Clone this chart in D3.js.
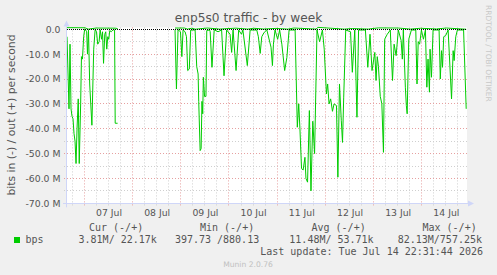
<!DOCTYPE html>
<html lang="en">
<head>
<meta charset="UTF-8">
<title>enp5s0 traffic - by week</title>
<script src="https://cdn.jsdelivr.net/npm/d3@7"></script>
<style>
  body { margin:0; background:#f0f0f0; }
  svg { display:block; }
  .sans { font-family:"DejaVu Sans", sans-serif; fill:#555; }
  .mono { font-family:"DejaVu Sans Mono", monospace; font-size:10px; fill:#555; }
</style>
</head>
<body>
<svg id="chart" width="497" height="275"></svg>
<script>
// graph window, read as UTC
var endTime = Date.UTC(2026, 6, 14, 22, 31, 44);
var spanHours = 199.2;

// in (-) series: hours after window start, Mbit/s (null = no data)
var inHours = [0, 1, 1.5, 2, 2.5, 3, 3.5, 4, 4.5, 5, 5.6, 6.1, 6.8, 7.2, 7.7, 8.3, 8.8, 9.3, 9.8, 10.2,
  10.7, 11.3, 12.4, 13.3, 14, 14.7, 15.3, 16, 16.5, 17.2, 17.7, 18.2, 18.8, 19.3, 19.8, 20.3, 20.8, 21.3, 22, 23,
  23.7, 24, 25.2, 26,
  53.8, 54.5, 55.3, 56.5, 57.2, 57.8, 58.8, 59.5, 60.1, 60.9, 61.6, 63.8, 64.6, 65.3, 65.6, 66.3, 66.8, 67.2, 67.6, 67.9,
  68.5, 69.2, 69.6, 71, 71.3, 72.2, 73.3, 75.2, 77, 78.2, 79.5, 81.2, 82, 82.7, 84.2, 85.5, 86.9, 87.6, 89.8, 91.2,
  94.5, 95.3, 96.2, 97, 98, 99.5, 101.6, 102.3, 102.8, 103.6, 104.9, 105.9, 107, 108.4, 109.5, 110.6, 113.6, 114.7, 115.4, 116,
  116.8, 117.6, 118.5, 119, 119.8, 120.7, 121.5, 122.4, 123.3, 124.5, 125.8, 127.2, 128.1, 129.2, 129.8, 130.5, 131.3, 132.2, 133, 134.2,
  134.9, 135.7, 136.6, 137.2, 137.8, 138.8, 141.2, 142.1, 143.3, 144.4, 145.2, 148.6, 149.8, 150.9, 151.9, 153.3, 153.9, 154.5, 155.1, 156,
  156.8, 157.6, 158.2, 159.5, 161, 162.1, 162.9, 163.9, 165, 166.4, 167, 167.5, 168.5, 169, 169.4, 170.2, 171.5, 173.7, 174.3, 174.9,
  175.6, 176.5, 177.5, 178.5, 179.2, 179.8, 180.5, 180.8, 181.5, 182.3, 185.3, 185.9, 186.5, 187, 187.6, 188.6, 189.8, 191.5, 192.3, 192.8,
  193.6, 194.4, 197.5, 198.8];
var inMbps = [-3, -32, -6, -32, -35, -36, -42, -45, -54, -40, -28, -54, -30, -11, -12, -3, 0, -0.3, -1, -10,
  -0.3, -22, -38.6, -8, -0.2, -1, -6, -5, -0.2, -4, -1, -13.7, -2, -1, -8, -3, -4, -0.5, -1, -0.2,
  -0.3, -37.8, -37.8, null,
  -0.2, -24, -0.2, -1, -11, -0.3, -1, -3, -16.6, -16, -0.3, -0.3, -15, -18, -29, -48.8, -48, -29, -34, -19.3,
  -27, -27, -0.5, -0.3, -1, -15.3, -0.2, -1, -0.3, -18.7, -0.3, -2, -9.3, -0.3, -16.6, -0.3, -2, -0.3, -14.6, -0.3,
  -0.3, -3, -9.7, -3, -1.5, -0.2, -7.2, -14.6, -6, -0.3, -4, -0.3, -6, -16.6, -11.3, -0.3, -0.3, -39.4, -30, -40,
  -56, -56.6, -51.5, -60, -61.5, -32.7, -65, -37, -50, -0.3, -5, -0.3, -8, -26, -22, -30, -28, -33, -30, -30.7,
  -59.5, -22, -36.8, -45.5, -27.3, -0.3, -1, -17.3, -0.3, -35.4, -0.3, -0.3, -15.3, -2, -16.6, -9.3, -20.6, -11, -15, -27,
  -30, -49.5, -4, -2, -0.3, -20.6, -6, -10.6, -0.3, -4.5, -12, -0.3, -23.3, -30.7, -34, -4, -0.3, -0.3, -22, -5,
  -6, -0.3, -4, -0.3, -23.3, -12, -25.3, -8, -19.3, -0.3, -0.3, -20, -8.6, -15.3, -3, -2.5, -0.3, -28, -8.6, -12.6,
  -3, -0.3, -0.3, -32];

// out (+) series: hours after window start, kbit/s
var outHours = [0, 9, 10.5, 14.5, 24, 25.2, 26, 53.8, 58.5, 60, 62, 64, 70, 76, 84, 90, 93, 98, 104, 110,
  113, 124, 125, 131, 138, 142, 150, 155, 165, 171, 176, 184, 189, 198.8];
var outKbps = [650, 600, 60, 500, 450, 300, null, 500, 500, 80, 400, 60, 500, 100, 450, 100, 400, 120, 350, 80,
  500, 90, 757.25, 450, 80, 300, 100, 550, 500, 100, 400, 150, 500, 22.17];

var yTicksM = [0, -10, -20, -30, -40, -50, -60, -70];
var legendHead = ["Cur (-/+)", "Min (-/+)", "Avg (-/+)", "Max (-/+)"];
var legendName = "bps";
var legendVals = ["  3.81M/ 22.17k", "397.73 /880.13 ", " 11.48M/ 53.71k", " 82.13M/757.25k"];
var lastUpdate = "Last update: Tue Jul 14 22:31:44 2026";

var W = 497, H = 275;
var plot = {left: 67, right: 467, top: 27.4, bottom: 203.3};
var green = "#00cc00", axisCol = "#cfd6f8";

var startTime = endTime - spanHours * 3600e3;
var t0 = new Date(startTime), t1 = new Date(endTime);
function hoursToDate(h) { return new Date(startTime + h * 3600e3); }

var inData = inHours.map((h, i) => ({t: hoursToDate(h), v: inMbps[i] === null ? null : inMbps[i] * 1e6}));
var outData = outHours.map((h, i) => ({t: hoursToDate(h), v: outKbps[i] === null ? null : outKbps[i] * 1e3}));

var x = d3.scaleUtc().domain([t0, t1]).range([plot.left, plot.right]);
var y = d3.scaleLinear().domain([-70e6, d3.max(outKbps) * 1e3]).range([plot.bottom, plot.top]);
function px(v) { return Math.floor(v) + 0.5; }

var svg = d3.select("#chart");
svg.append("rect").attr("width", W).attr("height", H).attr("fill", "#f0f0f0");
svg.append("rect").attr("x", plot.left).attr("y", plot.top)
  .attr("width", plot.right - plot.left).attr("height", plot.bottom - plot.top).attr("fill", "#fff");

// grid
var grid = svg.append("g").attr("fill", "none").attr("stroke-width", 1).attr("stroke-dasharray", "1,2");
var days = d3.utcDay.range(t0, t1);
var quarters = d3.utcHour.every(6).range(t0, t1).filter(d => d.getUTCHours() !== 0);
var minorY = d3.range(-65, 0, 5).filter(v => v % 10 !== 0);
var majorY = yTicksM.filter(v => v !== 0 && v !== -70);

grid.selectAll(".vmin").data(quarters).join("line")
  .attr("x1", d => px(x(d))).attr("x2", d => px(x(d)))
  .attr("y1", plot.top).attr("y2", plot.bottom + 3).attr("stroke", "#cfcfcf");
grid.selectAll(".hmin").data(minorY).join("line")
  .attr("x1", plot.left - 3).attr("x2", plot.right)
  .attr("y1", d => px(y(d * 1e6))).attr("y2", d => px(y(d * 1e6))).attr("stroke", "#cfcfcf");
grid.selectAll(".vmaj").data(days).join("line")
  .attr("x1", d => px(x(d))).attr("x2", d => px(x(d)))
  .attr("y1", plot.top).attr("y2", plot.bottom + 3).attr("stroke", "#e6a0a0");
grid.selectAll(".hmaj").data(majorY).join("line")
  .attr("x1", plot.left - 3).attr("x2", plot.right)
  .attr("y1", d => px(y(d * 1e6))).attr("y2", d => px(y(d * 1e6))).attr("stroke", "#e6a0a0");

// series
var line = d3.line().defined(d => d.v !== null).x(d => x(d.t)).y(d => y(d.v));
svg.append("path").datum(inData).attr("d", line)
  .attr("fill", "none").attr("stroke", green).attr("stroke-width", 1);
svg.append("path").datum(outData).attr("d", line)
  .attr("fill", "none").attr("stroke", green).attr("stroke-width", 1);

// zero rule
svg.append("line").attr("x1", plot.left).attr("x2", plot.right)
  .attr("y1", px(y(0))).attr("y2", px(y(0)))
  .attr("stroke", "#000").attr("stroke-dasharray", "1,1");

// axes lines with arrows
svg.append("line").attr("x1", plot.left - 0.5).attr("x2", plot.left - 0.5)
  .attr("y1", plot.bottom + 4).attr("y2", plot.top - 1).attr("stroke", axisCol);
svg.append("path").attr("d", d3.line()([[plot.left - 3.5, plot.top - 1], [plot.left + 2.5, plot.top - 1], [plot.left - 0.5, plot.top - 7]]))
  .attr("fill", axisCol);
svg.append("line").attr("x1", plot.left - 4).attr("x2", plot.right + 2)
  .attr("y1", px(plot.bottom)).attr("y2", px(plot.bottom)).attr("stroke", axisCol);
svg.append("path").attr("d", d3.line()([[plot.right + 1, px(plot.bottom) - 3], [plot.right + 1, px(plot.bottom) + 3], [plot.right + 7, px(plot.bottom)]]))
  .attr("fill", axisCol);

// y labels
var yAxis = d3.axisLeft(y).tickValues(yTicksM.map(v => v * 1e6)).tickSize(0).tickPadding(0)
  .tickFormat(v => v === 0 ? "0.0" : (v / 1e6).toFixed(1) + " M");
var gy = svg.append("g").attr("transform", "translate(60.5,0)").call(yAxis);
gy.select(".domain").remove();
gy.selectAll("text").attr("class", "sans").attr("font-size", 9.3).attr("fill", "#555")
  .attr("font-family", "DejaVu Sans");

// x labels at noon
var noons = days.map(d => d3.utcHour.offset(d, 12)).filter(d => d >= t0 && d <= t1);
var xAxis = d3.axisBottom(x).tickValues(noons).tickSize(0).tickPadding(0).tickFormat(d3.utcFormat("%d %b"));
var gx = svg.append("g").attr("transform", "translate(0,209)").call(xAxis);
gx.select(".domain").remove();
gx.selectAll("text").attr("font-size", 9.3).attr("fill", "#555").attr("font-family", "DejaVu Sans");

// title and axis title
svg.append("text").attr("class", "sans").attr("x", 248.5).attr("y", 22)
  .attr("text-anchor", "middle").attr("font-size", 12.2).text("enp5s0 traffic - by week");
svg.append("text").attr("class", "sans").attr("transform", "translate(14.5,115) rotate(-90)")
  .attr("text-anchor", "middle").attr("font-size", 10.8).text("bits in (-) / out (+) per second");
svg.append("text").attr("class", "sans").attr("transform", "translate(485.5,5) rotate(90)")
  .attr("font-size", 7.5).attr("fill", "#c8c8c8").style("fill", "#c8c8c8").text("RRDTOOL / TOBI OETIKER");

// legend
var headX = [89, 200, 311.5, 422.5];
svg.selectAll(".lh").data(legendHead).join("text").attr("class", "mono")
  .attr("x", (d, i) => headX[i]).attr("y", 230.5).attr("xml:space", "preserve").text(d => d);
svg.append("rect").attr("x", 14).attr("y", 237).attr("width", 6).attr("height", 6).attr("fill", green);
svg.append("text").attr("class", "mono").attr("x", 25.5).attr("y", 242.5).text(legendName);
svg.selectAll(".lv").data(legendVals).join("text").attr("class", "mono")
  .attr("x", (d, i) => 66.5 + i * 108.4).attr("y", 242.5)
  .style("white-space", "pre").text(d => d);
svg.append("text").attr("class", "mono").attr("x", 483).attr("y", 254.5)
  .attr("text-anchor", "end").text(lastUpdate);
svg.append("text").attr("class", "sans").attr("x", 248).attr("y", 266.5)
  .attr("text-anchor", "middle").attr("font-size", 7.6).style("fill", "#c0c0c0").text("Munin 2.0.76");
</script>
</body>
</html>
